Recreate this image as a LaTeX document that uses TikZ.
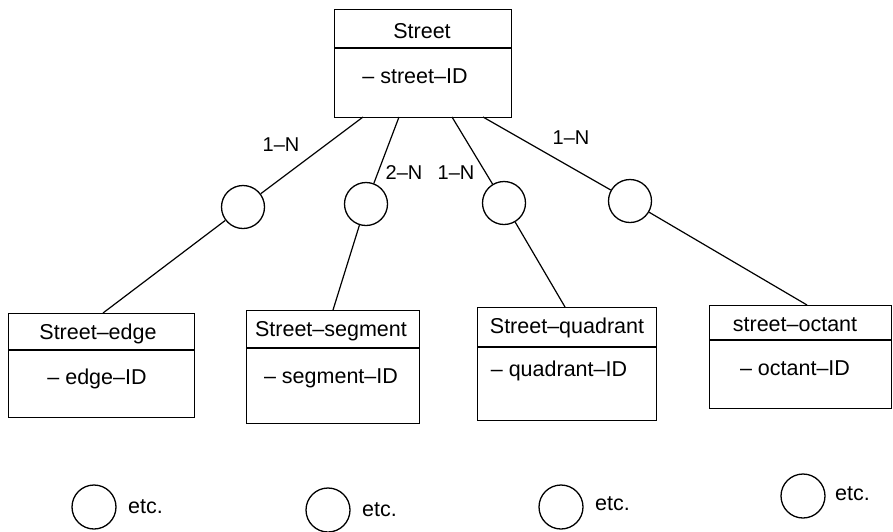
\documentclass[tikz,border=0pt]{standalone}
\usepackage{fontspec}
\setmainfont{Liberation Sans}
\begin{document}
\begin{tikzpicture}[x=1pt,y=-1pt,
  box/.style={draw,line width=1.3pt,rectangle,inner sep=0pt,anchor=north west},
  txt/.style={inner sep=0pt,font=\fontsize{21.5}{25}\selectfont},
  rel/.style={draw,circle,line width=1.3pt,inner sep=0pt,minimum size=43pt},
  conn/.style={line width=1.2pt},
  lab/.style={inner sep=0pt,font=\fontsize{20}{23}\selectfont}]
\useasboundingbox (0,0) rectangle (893,531);

% top entity
\node[box,minimum width=177pt,minimum height=108pt] (street) at (334,9) {};
\draw[line width=1.2pt] (334,48) -- (511,48);
\node[txt] (streett) at (422,31) {Street};
\node[txt] (streeta) at (415,76) {– street–ID};

% lower entities
\node[box,minimum width=186pt,minimum height=104pt] (edge) at (8,313) {};
\draw[line width=1.2pt] (8,350) -- (194,350);
\node[txt] (edget) at (98,334) {Street–edge};
\node[txt] (edgea) at (97,379) {– edge–ID};

\node[box,minimum width=173pt,minimum height=113pt] (seg) at (246,310) {};
\draw[line width=1.2pt] (246,348) -- (419,348);
\node[txt] (segt) at (331,331) {Street–segment};
\node[txt] (sega) at (331,378) {– segment–ID};

\node[box,minimum width=179pt,minimum height=113pt] (quad) at (477,307) {};
\draw[line width=1.2pt] (477,347) -- (656,347);
\node[txt] (quadt) at (567,328) {Street–quadrant};
\node[txt] (quada) at (559,371) {– quadrant–ID};

\node[box,minimum width=182pt,minimum height=103pt] (oct) at (709,305) {};
\draw[line width=1.2pt] (709,340) -- (891,340);
\node[txt] (octt) at (795,325) {street–octant};
\node[txt] (octa) at (795,368) {– octant–ID};

% relationship circles
\node[rel] (r1) at (243,207) {};
\node[rel] (r2) at (366,204) {};
\node[rel] (r3) at (504,203) {};
\node[rel] (r4) at (630,201) {};

% attachment points
\coordinate (s1) at (363,117);
\coordinate (s2) at (399,117);
\coordinate (s3) at (452,117);
\coordinate (s4) at (483,117);
\coordinate (e1) at (103,313);
\coordinate (e2) at (333,310);
\coordinate (e3) at (565,307);
\coordinate (e4) at (807,305);

\draw[conn] (s1) -- (r1);
\draw[conn] (s2) -- (r2);
\draw[conn] (s3) -- (r3);
\draw[conn] (s4) -- (r4);
\draw[conn] (r1) -- (e1);
\draw[conn] (r2) -- (e2);
\draw[conn] (r3) -- (e3);
\draw[conn] (r4) -- (e4);

% cardinality labels
\node[lab] (l1) at (281,145) {1–N};
\node[lab] (l2) at (404,173) {2–N};
\node[lab] (l3) at (456,173) {1–N};
\node[lab] (l4) at (571,138) {1–N};

% etc. circles
\node[rel,minimum size=44pt] (c1) at (94,507) {};
\node[txt,anchor=west] (t1) at (128,507) {etc.};
\node[rel,minimum size=44pt] (c2) at (328,510) {};
\node[txt,anchor=west] (t2) at (362,510) {etc.};
\node[rel,minimum size=44pt] (c3) at (561,507) {};
\node[txt,anchor=west] (t3) at (595,504) {etc.};
\node[rel,minimum size=44pt] (c4) at (803,496) {};
\node[txt,anchor=west] (t4) at (835,494) {etc.};
\end{tikzpicture}
\end{document}
